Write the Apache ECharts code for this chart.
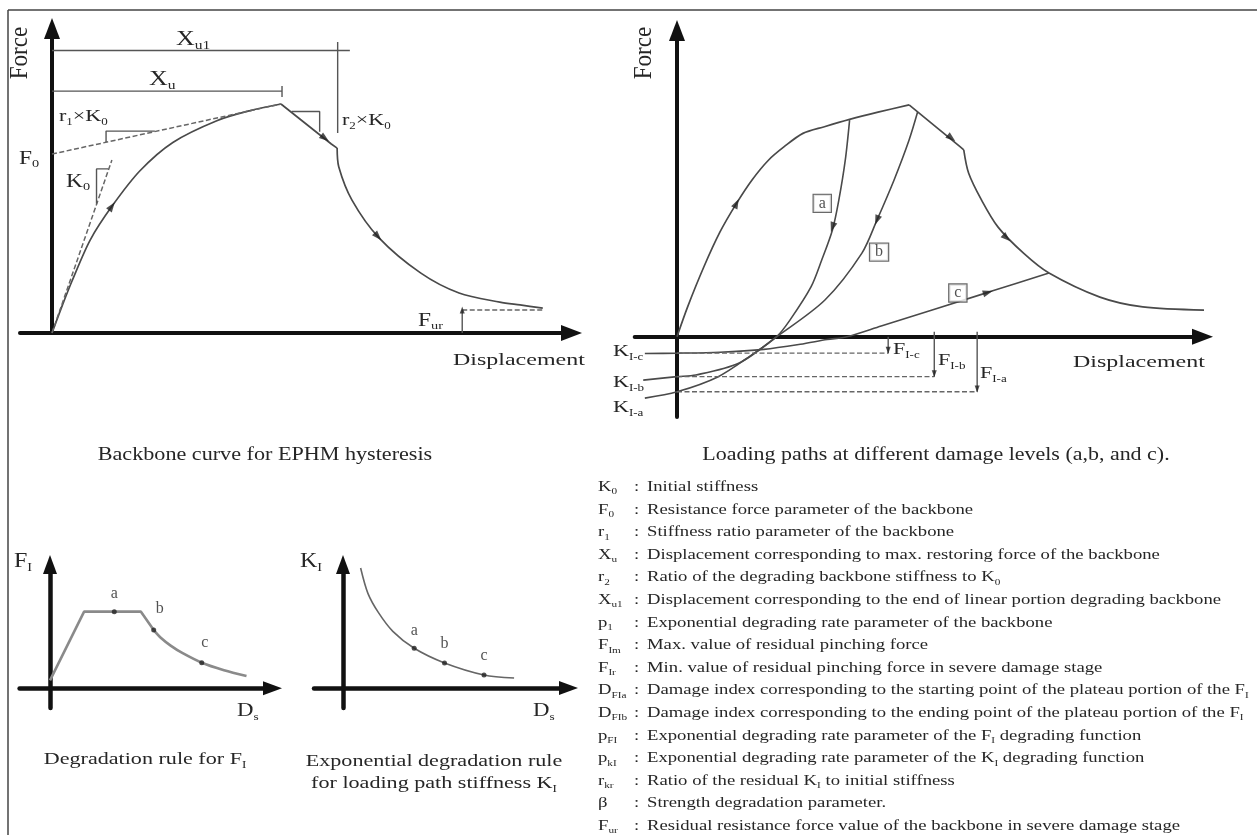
<!DOCTYPE html>
<html>
<head>
<meta charset="utf-8">
<title>EPHM hysteresis model</title>
<script src="https://cdn.jsdelivr.net/npm/echarts@6/dist/echarts.min.js"></script>
<style>
  html, body { margin: 0; padding: 0; background: #fff; }
  #main { width: 1257px; height: 835px; }
</style>
</head>
<body>
<div id="main"></div>
<script>
// ---------------- Data (arbitrary normalised units, 0-100) ----------------

// Backbone curve for EPHM hysteresis: displacement vs force
const bbRise  = [[0,0],[2.0,9.0],[3.8,16.6],[7.2,29.5],[11.3,40.2],[16.6,51.5],[22.8,60.5],[31.1,67.4],[37.4,70.6],[43.2,72.7]];
const bbDrop  = [[43.2,72.7],[52.7,60.0],[53.8,58.7]];
const bbDecay = [[53.8,58.7],[54.1,52.8],[56.6,42.2],[61.7,30.2],[69.6,19.0],[76.8,12.7],[84.5,9.8],[88.3,8.9],[92.6,7.9]];
const k0Line  = [[0,0],[11.3,54.9]];
const r1Line  = [[0,56.8],[43.2,72.7]];
const k0Tri   = [[8.4,41.0],[8.4,52.1],[10.6,52.1]];
const r1Tri   = [[10.2,60.6],[10.2,64.1],[19.4,64.1]];
const r2Tri   = [[45.2,70.3],[50.5,70.3],[50.5,63.9]];
const xuDim   = [[0,76.8],[43.4,76.8]];
const xuTick  = [[43.4,78.4],[43.4,74.9]];
const xu1Dim  = [[0,89.7],[56.2,89.7]];
const xu1Tick = [[53.9,92.4],[53.9,63.5]];
const furTick = [[77.4,0],[77.4,7.3]];
const furLine = [[77.4,7.3],[92.6,7.3]];
const bbArrowPts = [[11.3,40.2],[51.5,61.8],[61.5,30.6]];
const bbArrowDir = [-36, -127, -137];

// Loading paths at damage levels a, b, c
const lpRise  = [[0,0],[2.0,9.5],[5.0,22.0],[8.0,33.0],[11.1,42.1],[14.0,49.5],[17.1,55.8],[20.0,60.0],[23.5,64.2],[27.5,66.3],[32.2,68.6],[37.5,70.9],[43.3,73.2]];
const lpDrop  = [[43.3,73.2],[52.8,60.0],[53.5,59.0]];
const lpDecay = [[53.5,59.0],[54.4,51.7],[56.8,43.2],[59.9,34.6],[64.7,26.3],[69.4,20.1],[78.9,12.5],[86.9,9.4],[98.4,8.4]];
const pathA = [[-6.0,-19.4],[0,-17.4],[7.6,-12.7],[13.9,-5.8],[18.6,0],[21.1,5.3],[25.0,15.7],[27.0,24.2],[29.0,33.7],[30.2,43.2],[31.4,55.8],[32.2,68.4]];
const pathB = [[-6.3,-13.7],[0,-12.6],[3.5,-12.1],[11.6,-8.3],[18.6,0],[27.6,11.6],[34.5,26.4],[37.3,36.8],[40.5,49.5],[43.3,62.1],[44.9,71.0]];
const pathC = [[-6.0,-5.3],[0,-5.2],[8.0,-4.9],[16.2,-4.0],[23.0,-2.4],[28.0,-0.9],[31.7,0],[38.1,3.4],[58.0,14.0],[69.4,20.1]];
const pinchForce = [17.4, 12.6, 5.2];      // F_I-a, F_I-b, F_I-c
const pinchMarkX = [56.0, 48.0, 39.4];     // where each level is dimensioned
const levelBoxes = [[27.1,42.1],[37.7,26.7],[52.4,13.8]];
const lpArrowPts = [[11.1,42.1],[29.0,34.6],[37.3,36.8],[51.2,62.7],[61.5,31.2],[58.0,14.0]];
const lpArrowDir = [-27, 162, 159, -129, -132, -73];

// Degradation rule for F_I (damage index D_s)
const fiRamp   = [[0,6],[14.7,57.5],[39.2,57.5],[44.7,43.7]];
const fiDecay  = [[44.7,43.7],[48,37.5],[52,32.0],[57,26.5],[65.4,19.2],[75,13.6],[84.7,9.2]];
const fiPoints = [[27.7,57.5],[44.7,43.7],[65.4,19.2]];

// Exponential degradation rule for K_I
const kiCurve  = [[7.5,90],[10.6,71],[15.1,56.5],[21.2,42.5],[30.3,29.8],[43.2,18.8],[60,9.8],[72.8,7.5]];
const kiPoints = [[30.3,29.8],[43.2,18.8],[60,9.8]];

const levelNames = ['a', 'b', 'c'];

// Parameter list
const paramSymbols = ['K{s|0}','F{s|0}','r{s|1}','X{s|u}','r{s|2}','X{s|u1}','p{s|1}','F{s|Im}','F{s|Ir}',
  'D{s|FIa}','D{s|FIb}','p{s|FI}','p{s|kI}','r{s|kr}','β','F{s|ur}'];
const paramTexts = [
  'Initial stiffness',
  'Resistance force parameter of the backbone',
  'Stiffness ratio parameter of the backbone',
  'Displacement corresponding to max. restoring force of the backbone',
  'Ratio of the degrading backbone stiffness to K{s|0}',
  'Displacement corresponding to the end of linear portion degrading backbone',
  'Exponential degrading rate parameter of the backbone',
  'Max. value of residual pinching force',
  'Min. value of residual pinching force in severe damage stage',
  'Damage index corresponding to the starting point of the plateau portion of the F{s|I}',
  'Damage index corresponding to the ending point of the plateau portion of the F{s|I}',
  'Exponential degrading rate parameter of the F{s|I} degrading function',
  'Exponential degrading rate parameter of the K{s|I} degrading function',
  'Ratio of the residual K{s|I} to initial stiffness',
  'Strength degradation parameter.',
  'Residual resistance force value of the backbone in severe damage stage'
];

// ---------------- Styling helpers ----------------
const SERIF = "'Liberation Serif', 'Times New Roman', serif";
const INK = '#262626';
const CURVE = '#4a4a4a';
const AXIS = '#111';

// place a panel: origin pixel, pixel-per-unit scales and axis extents (arrow tips)
function panel(ox, oy, sx, sy, leftPx, tipX, tipY, bottomPx, ah) {
  const right = tipX - ah / 2, top = tipY + ah / 2;
  return {
    grid: { left: leftPx, top: top, width: right - leftPx, height: bottomPx - top, outerBoundsMode: 'none' },
    xmin: (leftPx - ox) / sx, xmax: (right - ox) / sx,
    ymin: (oy - bottomPx) / sy, ymax: (oy - top) / sy
  };
}
const panels = [
  panel(52, 333, 5.3, 3.15, 20, 582, 18, 333, 21),
  panel(677, 336.7, 5.36, 3.167, 634.7, 1213, 20, 417, 21),
  panel(50, 688.3, 2.32, 1.333, 19.6, 282, 555, 708, 19),
  panel(343, 688, 2.35, 1.333, 314, 578, 555, 708, 19)
];
const arrowSize = [[16, 21], [16, 21], [14, 19], [14, 19]];
const axisWidth = [4, 4, 4.5, 4.5];

function axis(i, dim) {
  const p = panels[i];
  return {
    type: 'value', gridIndex: i,
    min: dim === 'x' ? p.xmin : p.ymin, max: dim === 'x' ? p.xmax : p.ymax,
    axisLine: { show: true, onZero: true, symbol: ['none', 'triangle'], symbolSize: arrowSize[i],
      lineStyle: { color: AXIS, width: axisWidth[i] } },
    axisTick: { show: false }, axisLabel: { show: false }, splitLine: { show: false }
  };
}

function line(i, data, o = {}) {
  return {
    type: 'line', xAxisIndex: i, yAxisIndex: i, data: data, symbol: 'none', showSymbol: false,
    silent: true, animation: false, smooth: o.smooth || false, z: o.z || 3,
    lineStyle: { color: o.color || CURVE, width: o.width || 1.6, type: o.dash ? [5, 2.5] : 'solid' }
  };
}

function arrows(i, pts, dirs, size) {
  return {
    type: 'scatter', xAxisIndex: i, yAxisIndex: i, data: pts, symbol: 'triangle',
    symbolSize: size || [7, 10], symbolRotate: (v, p) => dirs[p.dataIndex],
    itemStyle: { color: '#222' }, silent: true, animation: false, z: 5
  };
}

function T(x, y, text, fs, o = {}) {
  const sub = Math.round(fs * 0.6);
  const ink = o.fill || INK;
  return {
    type: 'text', x: x, y: y, scaleX: o.sx == null ? 1.3 : o.sx, scaleY: o.sy == null ? 1 : o.sy,
    rotation: o.rot || 0, silent: true, z: 20,
    style: {
      text: text, fontFamily: SERIF, fontSize: fs, fill: ink,
      align: o.align || 'left', verticalAlign: 'middle', lineHeight: fs + 4,
      rich: { s: { fontFamily: SERIF, fontSize: sub, fill: ink, verticalAlign: 'bottom', lineHeight: sub + 1 } }
    }
  };
}

function dotLabels(offsets) {
  return (p, k) => ({ value: p, name: levelNames[k], label: { offset: offsets[k] } });
}

// ---------------- Series ----------------
const series = [];
// panel 0: backbone
series.push(line(0, bbRise, { smooth: 0.3, width: 1.7 }));
series.push(line(0, bbDrop, { width: 1.7 }));
series.push(line(0, bbDecay, { smooth: 0.3, width: 1.7 }));
series.push(line(0, k0Line, { dash: true, color: '#666', width: 1.5 }));
series.push(line(0, r1Line, { dash: true, color: '#666', width: 1.5 }));
[k0Tri, r1Tri, r2Tri, xuDim, xuTick, xu1Dim, xu1Tick, furTick].forEach(d => series.push(line(0, d, { color: '#555', width: 1.4 })));
series.push(line(0, furLine, { dash: true, color: '#666', width: 1.4 }));
series.push(arrows(0, bbArrowPts, bbArrowDir));
series.push(arrows(0, [furTick[1]], [0], [5, 7]));

// panel 1: loading paths
series.push(line(1, lpRise, { smooth: 0.3, width: 1.7 }));
series.push(line(1, lpDrop, { width: 1.7 }));
series.push(line(1, lpDecay, { smooth: 0.3, width: 1.7 }));
series.push(line(1, pathA, { smooth: 0.3, width: 1.6 }));
series.push(line(1, pathB, { smooth: 0.3, width: 1.6 }));
series.push(line(1, pathC, { smooth: 0.3, width: 1.6 }));
pinchForce.forEach((f, k) => {
  series.push(line(1, [[0, -f], [pinchMarkX[k], -f]], { dash: true, color: '#666', width: 1.4 }));
  series.push(line(1, [[pinchMarkX[k], k === 2 ? 0 : 1.6], [pinchMarkX[k], -f]], { color: '#555', width: 1.4 }));
});
series.push(arrows(1, pinchForce.map((f, k) => [pinchMarkX[k], -f + 0.9]), [180, 180, 180], [5, 7]));
series.push(arrows(1, lpArrowPts, lpArrowDir));
series.push({
  type: 'scatter', xAxisIndex: 1, yAxisIndex: 1, silent: true, animation: false, z: 6,
  data: levelBoxes.map((p, k) => ({ value: p, name: levelNames[k] })),
  symbolSize: 0,
  label: { show: true, position: 'inside', formatter: p => p.name, fontFamily: SERIF, fontSize: 16, color: INK,
    backgroundColor: '#fff', borderColor: '#444', borderWidth: 1.2, padding: [1, 5, 0, 5] }
});

// panel 2: F_I degradation
series.push(line(2, fiRamp, { color: '#8a8a8a', width: 2.6 }));
series.push(line(2, fiDecay, { smooth: 0.3, color: '#8a8a8a', width: 2.6 }));
series.push({
  type: 'scatter', xAxisIndex: 2, yAxisIndex: 2, silent: true, animation: false, z: 6,
  data: fiPoints.map(dotLabels([[0, -2], [6, -6], [3, -4]])),
  symbolSize: 5, itemStyle: { color: '#222' },
  label: { show: true, formatter: p => p.name, fontFamily: SERIF, fontSize: 16, color: INK, position: 'top' }
});
// panel 3: K_I degradation
series.push(line(3, kiCurve, { smooth: 0.3, color: '#666', width: 1.6 }));
series.push({
  type: 'scatter', xAxisIndex: 3, yAxisIndex: 3, silent: true, animation: false, z: 6,
  data: kiPoints.map(dotLabels([[0, -2], [0, -4], [0, -4]])),
  symbolSize: 5, itemStyle: { color: '#222' },
  label: { show: true, formatter: p => p.name, fontFamily: SERIF, fontSize: 16, color: INK, position: 'top' }
});

// ---------------- Text ----------------
const graphic = [
  { type: 'line', shape: { x1: 8, y1: 10, x2: 1257, y2: 10 }, style: { stroke: '#444', lineWidth: 1.5 }, silent: true },
  { type: 'line', shape: { x1: 8, y1: 10, x2: 8, y2: 835 }, style: { stroke: '#444', lineWidth: 1.5 }, silent: true },

  T(21, 53, 'Force', 22, { rot: Math.PI / 2, align: 'center', sx: 1.05, sy: 1.1 }),
  T(176, 40, 'X{s|u1}', 20),
  T(149, 80, 'X{s|u}', 20),
  T(59, 117, 'r{s|1}×K{s|0}', 17),
  T(19, 159, 'F{s|0}', 18),
  T(66, 182, 'K{s|0}', 18),
  T(342, 121, 'r{s|2}×K{s|0}', 17),
  T(418, 321, 'F{s|ur}', 18),
  T(453, 360, 'Displacement', 17.5, { sx: 1.37 }),

  T(645, 53, 'Force', 22, { rot: Math.PI / 2, align: 'center', sx: 1.05, sy: 1.1 }),
  T(1073, 362, 'Displacement', 17.5, { sx: 1.37 }),
  T(613, 352, 'K{s|I-c}', 17),
  T(613, 383, 'K{s|I-b}', 17),
  T(613, 408, 'K{s|I-a}', 17),
  T(893, 350, 'F{s|I-c}', 17),
  T(938, 361, 'F{s|I-b}', 17),
  T(980, 374, 'F{s|I-a}', 17),

  T(14, 562, 'F{s|I}', 20, { sx: 1.2 }),
  T(237, 711, 'D{s|s}', 19, { sx: 1.2 }),
  T(300, 562, 'K{s|I}', 20, { sx: 1.2 }),
  T(533, 711, 'D{s|s}', 19, { sx: 1.2 }),

  T(265, 455, 'Backbone curve for EPHM hysteresis', 18, { align: 'center', sx: 1.23 }),
  T(936, 455, 'Loading paths at different damage levels (a,b, and c).', 18, { align: 'center', sx: 1.22 }),
  T(145, 760, 'Degradation rule for F{s|I}', 17, { align: 'center', sx: 1.3 }),
  T(434, 762, 'Exponential degradation rule', 17, { align: 'center', sx: 1.3 }),
  T(434, 784, 'for loading path stiffness K{s|I}', 17, { align: 'center', sx: 1.3 })
];
paramSymbols.forEach((s, i) => {
  const y = 487 + 22.6 * i;
  graphic.push(T(598, y, s, 15, { sx: 1.245 }));
  graphic.push(T(634, y, ':', 15, { sx: 1.245 }));
  graphic.push(T(647, y, paramTexts[i], 15, { sx: 1.245 }));
});

const chart = echarts.init(document.getElementById('main'), null, { renderer: 'canvas' });
chart.setOption({
  animation: false,
  backgroundColor: '#fff',
  grid: panels.map(p => p.grid),
  xAxis: panels.map((p, i) => axis(i, 'x')),
  yAxis: panels.map((p, i) => axis(i, 'y')),
  series: series,
  graphic: graphic
});
</script>
</body>
</html>
